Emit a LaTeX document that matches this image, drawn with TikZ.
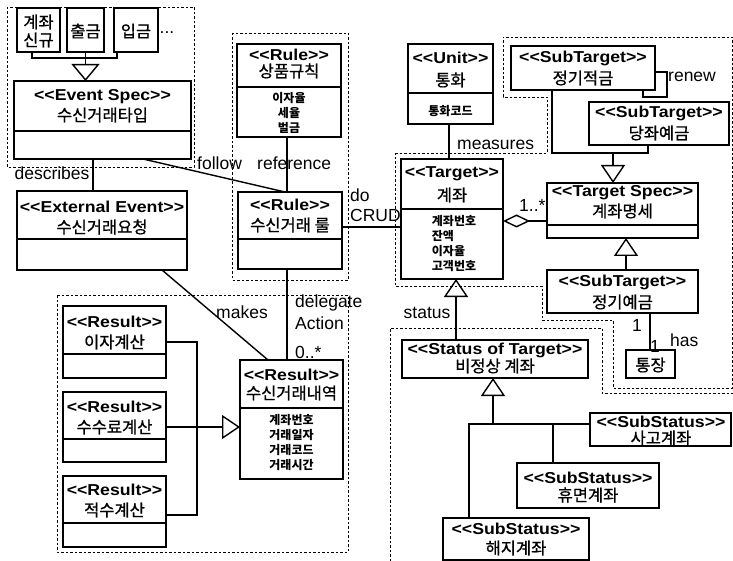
\documentclass[tikz,border=0pt]{standalone}
\usepackage{fontspec}
\setmainfont{Liberation Sans}
\newfontfamily\krfont[FakeBold=0.8]{Noto Sans CJK KR}
\newfontfamily\kratt{Noto Sans CJK KR}
\newfontfamily\stfont[FakeStretch=1.12]{Liberation Sans}
\usetikzlibrary{arrows.meta,calc}
\newcommand\sopen{<\kern0pt<}
\newcommand\sclose{>\kern0pt>}
% class box from its corners (x1,y1)-(x2,y2), y growing downwards
\newcommand\umlbox[5]{\node[umlbox, minimum width={#4-#2}, minimum height={#5-#3}] (#1) at ({(#2+#4)/2},{(#3+#5)/2}) {};}
% compartment divider, #2 below the top edge
\newcommand\divider[2]{\draw[boxline] ($(#1.north west)+(0,#2)$) -- ($(#1.north east)+(0,#2)$);}

\tikzset{
  boxline/.style={line width=1.6pt},
  umlbox/.style={draw, line width=1.6pt, rectangle, inner sep=0pt, outer sep=0pt, fill=white},
  conn/.style={line width=1.4pt},
  gen/.style={conn, -{Triangle[open, length=18pt, width=24pt]}},
  genwide/.style={conn, -{Triangle[open, length=17pt, width=28pt]}},
  agg/.style={conn, {Diamond[open, length=27pt, width=13pt]}-},
  group/.style={line width=0.9pt, dash pattern=on 2.5pt off 2pt},
  stereo/.style={font=\stfont\bfseries\fontsize{15.8}{17}\selectfont, inner sep=0pt},
  kname/.style={font=\krfont\fontsize{16.5}{18}\selectfont, inner sep=0pt, align=center},
  attr/.style={font=\kratt\bfseries\fontsize{12}{15}\selectfont, inner sep=0pt, align=center},
  lbl/.style={font=\fontsize{17.5}{19}\selectfont, inner sep=0pt},
}

\begin{document}
\begin{tikzpicture}[x=1pt, y=-1pt]
\useasboundingbox (0,0) rectangle (733,561);

% ---- package outlines ----
\draw[group] (7,7) rectangle (194,167);
\draw[group] (232,33) rectangle (348,280);
\draw[group] (57,295) rectangle (348,552);
\draw[group] (395,153) -- (547,153) -- (547,97) -- (503,97) -- (503,37) -- (732,37)
  -- (732,388) -- (613,388) -- (613,320) -- (542,320) -- (542,286) -- (395,286) -- cycle;
\draw[group] (390,561) -- (390,328) -- (602,328) -- (602,393) -- (733,393);

% ---- event types ----
\umlbox{nb1}{17}{8}{60}{52}
\umlbox{nb2}{67}{8}{104}{52}
\umlbox{nb3}{114}{8}{158}{52}
\node[kname] (nb1-n) at (38.5,31) {계좌\\신규};
\node[kname] (nb2-n) at (85.5,31) {출금};
\node[kname] (nb3-n) at (136,31) {입금};
\node[lbl] (more) at (167,33) {...};

\umlbox{evs}{14}{81}{191}{159}
\divider{evs}{50}
\node[stereo] (evs-s) at (102.5,97) {\sopen Event Spec\sclose};
\node[kname] (evs-n) at (102.5,115) {수신거래타입};

\umlbox{ext}{17}{191}{187}{270}
\divider{ext}{48}
\node[stereo] (ext-s) at (102,207) {\sopen External Event\sclose};
\node[kname] (ext-n) at (102,227) {수신거래요청};

% ---- rules ----
\umlbox{pr}{237}{44}{341}{137}
\divider{pr}{43}
\node[stereo] (pr-s) at (289,55) {\sopen Rule\sclose};
\node[kname] (pr-n) at (289,71) {상품규칙};
\node[attr] (pr-a) at (289,113) {이자율\\세율\\벌금};

\umlbox{rl}{238}{192}{342}{269}
\divider{rl}{47}
\node[stereo] (rl-s) at (290,205) {\sopen Rule\sclose};
\node[kname] (rl-n) at (290,225) {수신거래 룰};

% ---- unit and target ----
\umlbox{un}{408}{44}{493}{124}
\divider{un}{49}
\node[stereo] (un-s) at (450.5,58) {\sopen Unit\sclose};
\node[kname] (un-n) at (450.5,80) {통화};
\node[attr] (un-a) at (450.5,111) {통화코드};

\umlbox{tgt}{401}{159}{503}{279}
\divider{tgt}{50}
\node[stereo] (tgt-s) at (452,174) {\sopen Target\sclose};
\node[kname] (tgt-n) at (452,195) {계좌};
\node[attr, align=left] (tgt-a) at (454,243.5) {계좌번호\\잔액\\이자율\\고객번호};

\umlbox{ts}{547}{183}{698}{238}
\divider{ts}{42}
\node[stereo] (ts-s) at (622.5,193) {\sopen Target Spec\sclose};
\node[kname] (ts-n) at (622.5,211) {계좌명세};

\umlbox{sub1}{511}{46}{655}{90}
\node[stereo] (sub1-s) at (583,58) {\sopen SubTarget\sclose};
\node[kname] (sub1-n) at (583,78) {정기적금};

\umlbox{sub2}{589}{102}{729}{145}
\node[stereo] (sub2-s) at (659,113) {\sopen SubTarget\sclose};
\node[kname] (sub2-n) at (659,133) {당좌예금};

\umlbox{sub3}{547}{270}{698}{313}
\node[stereo] (sub3-s) at (622.5,282) {\sopen SubTarget\sclose};
\node[kname] (sub3-n) at (622.5,302) {정기예금};

\umlbox{pb}{626}{350}{675}{378}
\node[kname] (pb-n) at (650.5,365) {통장};

% ---- status ----
\umlbox{sts}{402}{340}{588}{378}
\node[stereo] (sts-s) at (495,350) {\sopen Status of Target\sclose};
\node[kname] (sts-n) at (495,366) {비정상 계좌};

\umlbox{ss1}{590}{413}{731}{446}
\node[stereo] (ss1-s) at (661,422) {\sopen SubStatus\sclose};
\node[kname] (ss1-n) at (661,438) {사고계좌};

\umlbox{ss2}{517}{463}{659}{508}
\node[stereo] (ss2-s) at (588,478) {\sopen SubStatus\sclose};
\node[kname] (ss2-n) at (588,495) {휴면계좌};

\umlbox{ss3}{443}{518}{589}{560}
\node[stereo] (ss3-s) at (516,529) {\sopen SubStatus\sclose};
\node[kname] (ss3-n) at (516,548) {해지계좌};

% ---- results ----
\umlbox{r1}{63}{306}{166}{378}
\divider{r1}{48}
\node[stereo] (r1-s) at (114.5,322) {\sopen Result\sclose};
\node[kname] (r1-n) at (114.5,342) {이자계산};

\umlbox{r2}{63}{392}{166}{462}
\divider{r2}{47}
\node[stereo] (r2-s) at (114.5,407) {\sopen Result\sclose};
\node[kname] (r2-n) at (114.5,427) {수수료계산};

\umlbox{r3}{63}{476}{166}{547}
\divider{r3}{47}
\node[stereo] (r3-s) at (114.5,490) {\sopen Result\sclose};
\node[kname] (r3-n) at (114.5,510) {적수계산};

\umlbox{rs}{240}{360}{343}{479}
\divider{rs}{48}
\node[stereo] (rs-s) at (291.5,375) {\sopen Result\sclose};
\node[kname] (rs-n) at (291.5,393) {수신거래내역};
\node[attr] (rs-a) at (291.5,443) {계좌번호\\거래일자\\거래코드\\거래시간};

% ---- connectors ----
\coordinate (e1) at (32,58); \coordinate (e3) at (117,58); \coordinate (ej) at (85.5,58);
\draw[conn] (nb1.south -| e1) -- (e1) -- (e3) -- (nb3.south -| e3);
\draw[conn] (nb2.south) -- (ej);
\draw[genwide] (ej) -- (evs.north -| ej);

\coordinate (dx) at (93,0);
\draw[conn] (evs.south -| dx) -- (ext.north -| dx);
\coordinate (fa) at (143,0); \coordinate (fb) at (285,0);
\draw[conn] (evs.south -| fa) -- (rl.north -| fb);
\coordinate (rx) at (287,0);
\draw[conn] (pr.south -| rx) -- (rl.north -| rx);
\draw[conn] (rl.south -| rx) -- (rs.north -| rx);
\coordinate (cy) at (0,227);
\draw[conn] (rl.east |- cy) -- (tgt.west |- cy);
\coordinate (mx) at (449,0);
\draw[conn] (un.south -| mx) -- (tgt.north -| mx);
\coordinate (ay) at (0,221);
\draw[agg] (tgt.east |- ay) -- (ts.west |- ay);

\coordinate (s1) at (552,153); \coordinate (s2) at (648,153); \coordinate (sj) at (613,153);
\draw[conn] (sub1.south -| s1) -- (s1) -- (s2) -- (sub2.south -| s2);
\draw[gen] (sj) -- (ts.north -| sj);
\coordinate (rn1) at (667,72); \coordinate (rn2) at (643,97);
\draw[conn] (sub1.east |- rn1) -- (rn1) |- (rn2) -- (sub1.south -| rn2);
\coordinate (gx) at (626,0);
\draw[gen] (sub3.north -| gx) -- (ts.south -| gx);
\coordinate (hx) at (650,0);
\draw[conn] (sub3.south -| hx) -- (pb.north -| hx);

\coordinate (tx) at (456,0);
\draw[gen] (sts.north -| tx) -- (tgt.south -| tx);
\coordinate (q1) at (469,424); \coordinate (q2) at (553,424); \coordinate (qj) at (493,424);
\draw[conn] (ss3.north -| q1) -- (q1) -- (ss1.west |- q1);
\draw[conn] (q2) -- (ss2.north -| q2);
\draw[gen] (qj) -- (sts.south -| qj);

\coordinate (p1) at (197,342); \coordinate (p3) at (197,515); \coordinate (pj) at (197,427);
\draw[conn] (r1.east |- p1) -- (p1) -- (p3) -- (r3.east |- p3);
\draw[conn] (r2.east |- pj) -- (pj);
\draw[gen] (pj) -- (rs.west |- pj);
\coordinate (ma) at (162,0); \coordinate (mb) at (268,0);
\draw[conn] (ext.south -| ma) -- (rs.north -| mb);

% ---- connector labels ----
\node[lbl] (l-desc) at (52,173) {describes};
\node[lbl, anchor=west] (l-follow) at (197,163) {follow};
\node[lbl, anchor=west] (l-ref) at (257,163) {reference};
\node[lbl, anchor=west] (l-meas) at (457,145) {measures};
\node[lbl, anchor=west] (l-do) at (350,195) {do};
\node[lbl, anchor=west] (l-crud) at (350,215) {CRUD};
\node[lbl, anchor=west] (l-many) at (519,205) {1..*};
\node[lbl, anchor=west] (l-renew) at (668,77) {renew};
\node[lbl] (l-one1) at (637,325) {1};
\node[lbl, anchor=west] (l-has) at (670,340) {has};
\node[lbl] (l-one2) at (655,346) {1};
\node[lbl] (l-status) at (427,313) {status};
\node[lbl] (l-makes) at (242,312) {makes};
\node[lbl, anchor=west] (l-deleg) at (295,303) {delegate};
\node[lbl, anchor=west] (l-action) at (295,323) {Action};
\node[lbl, anchor=west] (l-zero) at (295,352) {0..*};
\end{tikzpicture}
\end{document}
